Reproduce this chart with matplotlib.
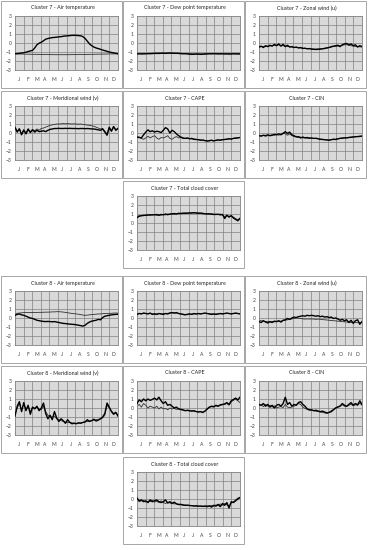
import numpy as np
import matplotlib
matplotlib.use("Agg")
import matplotlib.pyplot as plt
from matplotlib.patches import Rectangle

plt.rcParams['font.family'] = ['Lato', 'DejaVu Sans']

# DATA (standardised anomalies, 4 samples per month)
months = ['J', 'F', 'M', 'A', 'M', 'J', 'J', 'A', 'S', 'O', 'N', 'D']

c7_air_a = [-1.20, -1.18, -1.15, -1.12, -1.08, -1.02, -0.95, -0.88, -0.82, -0.55, -0.20, -0.02,
            0.08, 0.25, 0.42, 0.50, 0.55, 0.60, 0.62, 0.65, 0.68, 0.70, 0.75, 0.78,
            0.80, 0.82, 0.85, 0.85, 0.85, 0.82, 0.80, 0.70, 0.50, 0.20, -0.10, -0.30,
            -0.45, -0.55, -0.62, -0.70, -0.78, -0.85, -0.92, -1.00, -1.05, -1.10, -1.15, -1.20]
c7_air_b = [-1.20, -1.21, -1.22, -1.22, -1.23, -1.24, -1.24, -1.25, -1.25, -1.26, -1.26, -1.27,
            -1.27, -1.28, -1.28, -1.28, -1.29, -1.29, -1.30, -1.30, -1.30, -1.30, -1.30, -1.30,
            -1.30, -1.30, -1.29, -1.29, -1.29, -1.28, -1.28, -1.28, -1.27, -1.27, -1.26, -1.26,
            -1.25, -1.25, -1.24, -1.24, -1.23, -1.23, -1.22, -1.22, -1.21, -1.21, -1.20, -1.20]

c7_dew_a = [-1.22, -1.20, -1.22, -1.21, -1.20, -1.18, -1.19, -1.17, -1.16, -1.15, -1.16, -1.14,
            -1.13, -1.15, -1.14, -1.12, -1.13, -1.15, -1.14, -1.16, -1.18, -1.20, -1.19, -1.22,
            -1.24, -1.26, -1.25, -1.23, -1.24, -1.26, -1.25, -1.23, -1.22, -1.20, -1.21, -1.19,
            -1.20, -1.22, -1.21, -1.20, -1.22, -1.21, -1.23, -1.22, -1.20, -1.21, -1.22, -1.21]
c7_dew_b = [-1.16, -1.17, -1.16, -1.15, -1.16, -1.15, -1.14, -1.15, -1.13, -1.14, -1.12, -1.13,
            -1.12, -1.13, -1.11, -1.12, -1.13, -1.12, -1.14, -1.13, -1.15, -1.16, -1.18, -1.17,
            -1.19, -1.20, -1.21, -1.20, -1.19, -1.21, -1.20, -1.19, -1.18, -1.17, -1.18, -1.17,
            -1.18, -1.17, -1.18, -1.19, -1.18, -1.19, -1.18, -1.19, -1.18, -1.19, -1.18, -1.19]

c7_u_a = [-0.45, -0.35, -0.50, -0.30, -0.40, -0.25, -0.35, -0.15, -0.30, -0.10, -0.35, -0.15,
          -0.40, -0.25, -0.45, -0.40, -0.50, -0.45, -0.55, -0.50, -0.60, -0.58, -0.65, -0.62,
          -0.68, -0.70, -0.72, -0.70, -0.68, -0.65, -0.60, -0.55, -0.50, -0.40, -0.35, -0.30,
          -0.25, -0.40, -0.20, -0.10, -0.05, -0.20, -0.10, -0.30, -0.20, -0.45, -0.30, -0.40]
c7_u_b = [-0.45, -0.40, -0.42, -0.38, -0.35, -0.32, -0.30, -0.28, -0.25, -0.22, -0.28, -0.30,
          -0.35, -0.38, -0.40, -0.45, -0.48, -0.50, -0.52, -0.55, -0.58, -0.60, -0.62, -0.64,
          -0.66, -0.68, -0.68, -0.66, -0.64, -0.62, -0.58, -0.54, -0.50, -0.45, -0.40, -0.38,
          -0.35, -0.30, -0.25, -0.20, -0.20, -0.25, -0.30, -0.35, -0.38, -0.40, -0.42, -0.45]

c7_v_a = [0.60, 0.10, 0.45, -0.20, 0.30, -0.10, 0.40, 0.05, 0.35, 0.10, 0.30, 0.15,
          0.20, 0.25, 0.15, 0.30, 0.40, 0.45, 0.50, 0.50, 0.52, 0.50, 0.50, 0.52,
          0.50, 0.52, 0.50, 0.50, 0.50, 0.48, 0.50, 0.50, 0.48, 0.50, 0.48, 0.45,
          0.45, 0.40, 0.35, 0.30, 0.45, 0.10, -0.25, 0.60, 0.20, 0.70, 0.30, 0.50]
c7_v_b = [0.70, 0.20, 0.50, -0.10, 0.40, 0.00, 0.50, 0.15, 0.40, 0.25, 0.45, 0.30,
          0.50, 0.55, 0.65, 0.75, 0.85, 0.90, 0.95, 1.00, 1.00, 1.02, 1.05, 1.02,
          1.05, 1.02, 1.00, 1.02, 1.00, 0.98, 1.00, 0.95, 0.92, 0.88, 0.85, 0.80,
          0.75, 0.65, 0.55, 0.45, 0.50, 0.20, -0.10, 0.70, 0.25, 0.75, 0.35, 0.55]

c7_cape_a = [-0.45, -0.50, -0.55, -0.20, 0.10, 0.35, 0.15, 0.25, 0.10, 0.20, 0.15, 0.05,
             0.30, 0.60, 0.45, 0.00, 0.30, 0.15, -0.10, -0.30, -0.45, -0.55, -0.60, -0.55,
             -0.65, -0.60, -0.70, -0.72, -0.75, -0.80, -0.78, -0.85, -0.90, -0.85, -0.80, -0.88,
             -0.82, -0.78, -0.80, -0.75, -0.72, -0.70, -0.65, -0.68, -0.60, -0.58, -0.55, -0.50]
c7_cape_b = [-0.40, -0.45, -0.60, -0.70, -0.55, -0.35, -0.55, -0.40, -0.30, -0.55, -0.70, -0.50,
             -0.55, -0.45, -0.30, -0.60, -0.70, -0.50, -0.40, -0.55, -0.50, -0.60, -0.62, -0.58,
             -0.62, -0.65, -0.68, -0.70, -0.72, -0.78, -0.80, -0.82, -0.85, -0.88, -0.82, -0.85,
             -0.80, -0.75, -0.78, -0.72, -0.70, -0.68, -0.62, -0.65, -0.58, -0.55, -0.52, -0.48]

c7_cin_a = [-0.30, -0.35, -0.25, -0.30, -0.20, -0.30, -0.25, -0.15, -0.20, -0.10, -0.20, -0.05,
            0.15, -0.05, 0.10, -0.20, -0.30, -0.45, -0.40, -0.55, -0.45, -0.55, -0.50, -0.58,
            -0.55, -0.60, -0.58, -0.65, -0.70, -0.72, -0.75, -0.78, -0.80, -0.75, -0.70, -0.72,
            -0.65, -0.60, -0.58, -0.55, -0.55, -0.50, -0.48, -0.45, -0.42, -0.40, -0.38, -0.35]
c7_cin_b = [-0.25, -0.30, -0.28, -0.35, -0.30, -0.25, -0.20, -0.25, -0.15, -0.25, -0.10, 0.00,
            -0.10, -0.25, -0.10, -0.30, -0.40, -0.35, -0.50, -0.45, -0.55, -0.50, -0.58, -0.55,
            -0.58, -0.62, -0.60, -0.62, -0.68, -0.70, -0.72, -0.75, -0.78, -0.72, -0.68, -0.70,
            -0.62, -0.58, -0.55, -0.52, -0.50, -0.48, -0.45, -0.42, -0.40, -0.38, -0.35, -0.32]

c7_tcc_a = [0.60, 0.75, 0.80, 0.85, 0.85, 0.90, 0.88, 0.92, 0.90, 0.95, 0.85, 0.95,
            0.90, 1.00, 0.92, 1.00, 1.02, 1.05, 1.00, 1.08, 1.05, 1.10, 1.08, 1.10,
            1.12, 1.10, 1.15, 1.10, 1.08, 1.10, 1.05, 1.02, 1.00, 1.02, 0.98, 0.95,
            0.95, 0.98, 0.90, 0.95, 0.50, 0.85, 0.70, 0.80, 0.55, 0.40, 0.25, 0.50]
c7_tcc_b = [0.75, 0.80, 0.85, 0.80, 0.90, 0.85, 0.92, 0.88, 0.95, 0.85, 0.92, 0.88,
            0.95, 0.90, 1.00, 0.95, 1.00, 0.98, 1.05, 1.02, 1.08, 1.05, 1.12, 1.08,
            1.10, 1.15, 1.12, 1.15, 1.12, 1.08, 1.10, 1.05, 1.05, 1.00, 1.02, 0.98,
            0.98, 0.92, 1.00, 0.90, 0.70, 0.90, 0.60, 0.85, 0.65, 0.50, 0.35, 0.55]

c8_air_a = [0.30, 0.40, 0.45, 0.35, 0.30, 0.20, 0.10, 0.00, -0.05, -0.15, -0.25, -0.30,
            -0.35, -0.38, -0.40, -0.38, -0.40, -0.42, -0.40, -0.45, -0.50, -0.55, -0.60, -0.62,
            -0.65, -0.68, -0.70, -0.72, -0.75, -0.80, -0.85, -0.90, -0.80, -0.60, -0.45, -0.35,
            -0.30, -0.25, -0.15, -0.20, 0.05, 0.20, 0.25, 0.30, 0.35, 0.38, 0.40, 0.42]
c8_air_b = [0.50, 0.52, 0.55, 0.58, 0.60, 0.62, 0.60, 0.62, 0.60, 0.62, 0.62, 0.63,
            0.63, 0.64, 0.65, 0.65, 0.66, 0.68, 0.68, 0.70, 0.70, 0.68, 0.66, 0.62,
            0.58, 0.55, 0.50, 0.48, 0.45, 0.42, 0.38, 0.32, 0.30, 0.32, 0.35, 0.38,
            0.40, 0.42, 0.45, 0.45, 0.48, 0.50, 0.50, 0.52, 0.52, 0.55, 0.55, 0.55]

c8_dew_a = [0.40, 0.50, 0.45, 0.55, 0.50, 0.45, 0.55, 0.40, 0.45, 0.40, 0.50, 0.45,
            0.40, 0.50, 0.45, 0.55, 0.60, 0.55, 0.60, 0.50, 0.45, 0.40, 0.35, 0.40,
            0.45, 0.40, 0.50, 0.45, 0.50, 0.45, 0.50, 0.55, 0.50, 0.45, 0.40, 0.45,
            0.40, 0.45, 0.50, 0.45, 0.50, 0.55, 0.50, 0.45, 0.50, 0.55, 0.50, 0.45]
c8_dew_b = [0.48, 0.52, 0.50, 0.50, 0.52, 0.48, 0.50, 0.46, 0.48, 0.45, 0.48, 0.46,
            0.47, 0.50, 0.52, 0.55, 0.58, 0.56, 0.55, 0.50, 0.46, 0.42, 0.40, 0.42,
            0.44, 0.43, 0.46, 0.45, 0.48, 0.47, 0.50, 0.52, 0.50, 0.48, 0.45, 0.46,
            0.44, 0.46, 0.48, 0.47, 0.50, 0.52, 0.50, 0.48, 0.50, 0.52, 0.50, 0.48]

c8_u_a = [-0.40, -0.50, -0.30, -0.45, -0.55, -0.40, -0.50, -0.35, -0.40, -0.30, -0.45, -0.25,
          -0.20, -0.05, -0.15, 0.00, 0.10, 0.05, 0.15, 0.20, 0.25, 0.20, 0.30, 0.25,
          0.30, 0.25, 0.20, 0.25, 0.15, 0.20, 0.10, 0.15, 0.05, 0.10, -0.05, 0.00,
          -0.10, -0.25, -0.15, -0.30, -0.20, -0.50, -0.25, -0.60, -0.30, -0.20, -0.70, -0.40]
c8_u_b = [-0.25, -0.30, -0.35, -0.40, -0.40, -0.45, -0.40, -0.42, -0.40, -0.38, -0.35, -0.30,
          -0.25, -0.20, -0.15, -0.10, -0.05, 0.00, -0.02, -0.05, -0.10, -0.12, -0.10, -0.12,
          -0.10, -0.12, -0.15, -0.12, -0.15, -0.18, -0.20, -0.22, -0.25, -0.28, -0.30, -0.32,
          -0.35, -0.38, -0.40, -0.42, -0.45, -0.48, -0.50, -0.48, -0.50, -0.52, -0.50, -0.52]

c8_v_a = [-0.90, 0.20, 0.70, -0.40, 0.60, -0.30, 0.30, -0.70, 0.10, -0.10, 0.20, -0.30,
          0.00, 0.55, -0.60, -1.20, -0.80, -1.30, -0.40, -1.10, -1.50, -1.20, -1.40, -1.70,
          -1.30, -1.60, -1.75, -1.70, -1.75, -1.65, -1.70, -1.60, -1.55, -1.30, -1.50, -1.40,
          -1.25, -1.45, -1.35, -1.20, -1.00, -0.60, 0.55, 0.10, -0.40, -0.70, -0.50, -0.90]
c8_v_b = [-0.70, 0.00, 0.50, -0.20, 0.40, -0.10, 0.10, -0.40, 0.05, 0.00, 0.10, -0.10,
          -0.20, 0.20, -0.40, -0.80, -1.00, -1.00, -0.90, -1.20, -1.30, -1.40, -1.50, -1.55,
          -1.60, -1.62, -1.65, -1.68, -1.70, -1.68, -1.65, -1.60, -1.55, -1.50, -1.45, -1.40,
          -1.35, -1.30, -1.25, -1.20, -1.10, -0.80, 0.30, 0.00, -0.30, -0.60, -0.45, -0.80]

c8_cape_a = [0.50, 0.90, 0.70, 1.00, 0.80, 1.00, 0.85, 0.95, 1.10, 0.90, 1.20, 0.80,
             0.50, 0.70, 0.30, 0.40, 0.20, 0.00, 0.10, -0.10, -0.15, -0.20, -0.30, -0.25,
             -0.30, -0.35, -0.30, -0.40, -0.45, -0.40, -0.50, -0.35, -0.10, 0.10, 0.20, 0.15,
             0.30, 0.20, 0.35, 0.40, 0.45, 0.60, 0.40, 0.80, 0.95, 1.10, 0.90, 1.20]
c8_cape_b = [0.20, 0.40, 0.10, 0.50, 0.30, 0.00, 0.20, 0.10, 0.00, 0.20, -0.10, 0.10,
             -0.10, -0.05, -0.20, 0.00, -0.10, -0.05, -0.15, -0.10, -0.20, -0.25, -0.28, -0.30,
             -0.32, -0.30, -0.35, -0.38, -0.40, -0.42, -0.45, -0.35, -0.15, 0.05, 0.15, 0.10,
             0.25, 0.18, 0.30, 0.35, 0.40, 0.50, 0.30, 0.70, 0.85, 1.00, 0.80, 0.60]

c8_cin_a = [0.40, 0.30, 0.50, 0.20, 0.40, 0.10, 0.30, 0.00, 0.30, 0.40, 0.20, 0.50,
            1.20, 0.40, 0.60, 0.20, 0.40, 0.30, 0.60, 0.70, 0.40, 0.20, -0.10, -0.20,
            -0.20, -0.30, -0.25, -0.35, -0.40, -0.35, -0.45, -0.55, -0.50, -0.40, -0.20, 0.00,
            0.10, 0.20, 0.50, 0.30, 0.20, 0.40, 0.60, 0.30, 0.50, 0.35, 0.80, 0.40]
c8_cin_b = [0.20, 0.35, 0.15, 0.40, 0.20, 0.30, 0.10, 0.25, 0.00, 0.10, 0.15, 0.05,
            0.40, 0.10, 0.05, 0.10, 0.20, 0.35, 0.50, 0.40, 0.10, -0.05, -0.15, -0.25,
            -0.25, -0.30, -0.35, -0.40, -0.45, -0.50, -0.55, -0.60, -0.45, -0.30, -0.15, 0.05,
            0.15, 0.25, 0.35, 0.20, 0.15, 0.30, 0.40, 0.25, 0.35, 0.30, 0.55, 0.30]

c8_tcc_a = [0.10, -0.20, -0.10, -0.30, -0.20, -0.40, -0.10, -0.30, -0.20, -0.10, -0.30, -0.40,
            -0.30, -0.10, -0.45, -0.30, -0.50, -0.35, -0.55, -0.60, -0.60, -0.65, -0.70, -0.68,
            -0.72, -0.75, -0.78, -0.75, -0.80, -0.78, -0.82, -0.80, -0.85, -0.75, -0.90, -0.70,
            -0.80, -0.60, -0.85, -0.50, -0.70, -0.40, -1.00, -0.30, -0.40, -0.20, 0.00, 0.15]
c8_tcc_b = [0.00, -0.30, -0.20, -0.15, -0.35, -0.25, -0.30, -0.15, -0.35, -0.25, -0.40, -0.20,
            -0.40, -0.50, -0.35, -0.45, -0.45, -0.55, -0.50, -0.65, -0.62, -0.70, -0.68, -0.72,
            -0.75, -0.72, -0.78, -0.80, -0.78, -0.82, -0.80, -0.78, -0.75, -0.85, -0.70, -0.80,
            -0.65, -0.75, -0.55, -0.70, -0.50, -0.65, -0.80, -0.45, -0.30, -0.10, 0.10, 0.20]

# PANELS: (column, row, title, thick series, thin series)
panels = [
    (0, 0, 'Cluster 7 - Air temperature', c7_air_a, c7_air_b),
    (1, 0, 'Cluster 7 - Dew point temperature', c7_dew_a, c7_dew_b),
    (2, 0, 'Cluster 7 - Zonal wind (u)', c7_u_a, c7_u_b),
    (0, 1, 'Cluster 7 - Meridional wind (v)', c7_v_a, c7_v_b),
    (1, 1, 'Cluster 7 - CAPE', c7_cape_a, c7_cape_b),
    (2, 1, 'Cluster 7 - CIN', c7_cin_a, c7_cin_b),
    (1, 2, 'Cluster 7 - Total cloud cover', c7_tcc_a, c7_tcc_b),
    (0, 3, 'Cluster 8 - Air temperature', c8_air_a, c8_air_b),
    (1, 3, 'Cluster 8 - Dew point temperature', c8_dew_a, c8_dew_b),
    (2, 3, 'Cluster 8 - Zonal wind (u)', c8_u_a, c8_u_b),
    (0, 4, 'Cluster 8 - Meridional wind (v)', c8_v_a, c8_v_b),
    (1, 4, 'Cluster 8 - CAPE', c8_cape_a, c8_cape_b),
    (2, 4, 'Cluster 8 - CIN', c8_cin_a, c8_cin_b),
    (1, 5, 'Cluster 8 - Total cloud cover', c8_tcc_a, c8_tcc_b),
]

# LAYOUT (pixels, origin top-left)
W, H = 370, 550
colX = [1, 123, 245]
rowY = [1, 91, 181, 276, 366, 457]
boxW, boxH = 121, 87


def Fx(px):
    return px / W


def Fy(py):
    return 1 - py / H


def DrawPanel(fig, col, row, title, a, b):
    x0 = colX[col]
    y0 = rowY[row]

    # outer box
    fig.patches.append(Rectangle((Fx(x0), Fy(y0 + boxH)), boxW / W, boxH / H,
                                 transform=fig.transFigure, fill=False,
                                 edgecolor='#a6a6a6', lw=0.7, zorder=-5))
    fig.text(Fx(x0 + boxW / 2 + 1), Fy(y0 + 7), title, ha='center', va='center',
             fontsize=3.9, color='#262626')

    ax = fig.add_axes([Fx(x0 + 14), Fy(y0 + 69), 103 / W, 54 / H])
    ax.set_facecolor('#d9d9d9')
    ax.set_xlim(0, 12)
    ax.set_ylim(-3, 3)

    # grid
    ax.vlines(range(1, 12), -3, 3, color='#808080', lw=0.5, zorder=1)
    ax.hlines(range(-2, 3), 0, 12, color='#808080', lw=0.5, zorder=1)

    x = np.linspace(0, 12, len(a))
    ax.plot(x, b, color='#303030', lw=0.6, zorder=2)
    ax.plot(x, a, color='black', lw=1.0, zorder=3)

    ax.set_xticks(np.arange(12) + 0.5)
    ax.set_xticklabels(months)
    ax.set_yticks(range(-3, 4))
    ax.tick_params(length=0, labelsize=3.6, colors='#404040', pad=2.5)
    ax.tick_params(axis='x', pad=5)
    for s in ax.spines.values():
        s.set_color('#808080')
        s.set_linewidth(0.6)
    return ax


fig = plt.figure(figsize=(W / 100, H / 100), dpi=100)
for col, row, title, a, b in panels:
    DrawPanel(fig, col, row, title, a, b)

fig.savefig('out.png', dpi=100)
